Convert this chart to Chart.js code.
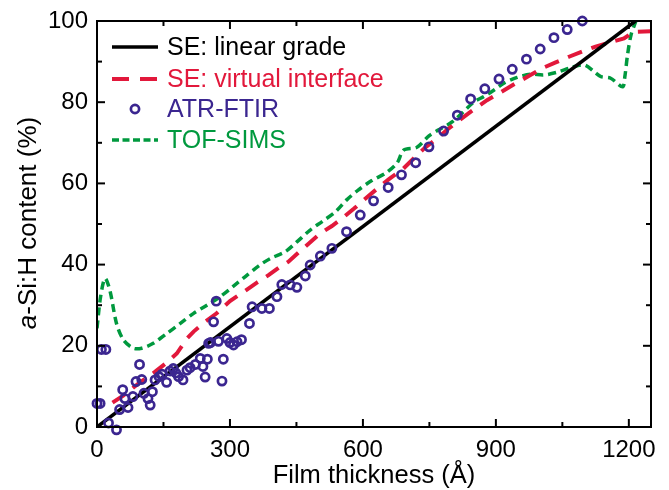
<!DOCTYPE html>
<html>
<head>
<meta charset="utf-8">
<script src="https://cdn.jsdelivr.net/npm/chart.js@4.4.1/dist/chart.umd.min.js"></script>
<style>
  body { margin: 0; background: #fff; }
  #wrap { width: 669px; height: 490px; }
</style>
</head>
<body>
<div id="wrap"><canvas id="depthChart"></canvas></div>
<script>
////Series values (x = film thickness in Å, y = a-Si:H content in %)
const linearX = [0, 1215];
const linearY = [0, 100];

const virtualX = [35, 60, 97, 130, 160, 180, 203, 218, 245, 270, 300, 331, 360, 387, 410, 432, 460, 504, 530, 553, 580, 602, 630, 658, 690, 715, 740, 768, 790, 813, 845, 880, 910, 941, 975, 1005, 1035, 1065, 1095, 1125, 1160, 1189, 1210, 1252];
const virtualY = [6.0, 7.8, 11, 13.5, 16.1, 18.1, 21.8, 23.5, 26.0, 28.0, 31.0, 33.3, 35.5, 37.4, 39.2, 40.7, 43.5, 47.7, 49.5, 51.4, 53.8, 55.9, 58.5, 61, 63.5, 66.2, 68.8, 71.1, 73.2, 75.2, 77.8, 80.5, 82.4, 84.4, 86.5, 88.4, 89.8, 91.2, 92.5, 93.7, 94.8, 95.7, 97.3, 97.5];

const atrX = [0, 7, 10, 20, 26, 44, 51, 58, 63, 70, 81, 88, 96, 101, 106, 115, 120, 125, 131, 140, 147, 157, 165, 172, 178, 184, 194, 203, 210, 222, 233, 239, 244, 249, 252, 256, 263, 269, 274, 282, 285, 293, 300, 308, 316, 326, 344, 350, 372, 389, 406, 417, 436, 451, 470, 481, 504, 530, 563, 594, 624, 657, 687, 719, 749, 782, 813, 843, 875, 907, 937, 969, 1000, 1031, 1061, 1095];
const atrY = [5.8, 5.8, 19.1, 19.1, 1.0, -0.7, 4.3, 9.2, 7.0, 4.8, 7.5, 11.2, 15.4, 11.7, 8.3, 7.0, 5.4, 8.7, 11.6, 12.4, 13.0, 11.0, 13.8, 14.4, 13.3, 12.4, 11.6, 14.0, 14.6, 15.4, 16.9, 14.9, 12.3, 16.7, 20.6, 20.8, 25.9, 31.0, 21.1, 11.3, 16.7, 21.8, 20.8, 20.2, 21.0, 21.5, 25.5, 29.6, 29.2, 29.2, 32.1, 35.1, 35.0, 34.4, 37.2, 39.9, 42.1, 44.0, 48.1, 52.2, 55.7, 59.0, 62.1, 65.1, 69.0, 72.9, 76.8, 80.8, 83.3, 85.7, 88.1, 90.6, 93.1, 95.9, 97.9, 100];

const tofX = [0, 8, 18, 29, 44, 60, 82, 101, 127, 157, 188, 218, 248, 278, 308, 334, 365, 391, 425, 451, 481, 508, 538, 564, 590, 620, 651, 677, 692, 722, 749, 771, 802, 850, 873, 896, 918, 948, 978, 1008, 1039, 1069, 1099, 1122, 1137, 1159, 1186, 1191, 1197, 1205, 1216];
const tofY = [24.3, 32, 36.6, 33.7, 25.5, 21.4, 19.4, 19.4, 20.6, 23, 25.5, 28, 30, 32.1, 34.7, 37, 39.7, 41.5, 43.2, 45.6, 48.5, 50.6, 53, 56, 58.4, 60.7, 62.5, 65, 68.2, 68.9, 71.7, 73.2, 75.2, 80, 81.4, 83, 84.7, 86.1, 86.9, 86.7, 87.4, 88.5, 89.2, 87.5, 86.3, 85.9, 83.8, 86.3, 91.6, 96.6, 100];

const seriesNames = ["SE: linear grade", "SE: virtual interface", "ATR-FTIR", "TOF-SIMS"];

////Axis tick values
const xTickValues = [0, 300, 600, 900, 1200];
const yTickValues = [0, 20, 40, 60, 80, 100];

////Colors
const BLACK = "#000000";
const RED = "#e2183b";
const PURPLE = "#3b2690";
const GREEN = "#00993e";

const FONT = "'Liberation Sans', Arial, sans-serif";

//zip two arrays into {x, y} points
function toPoints(xs, ys) {
    let pts = [];
    for (let i = 0; i < xs.length; i++) {
        pts.push({ x: xs[i], y: ys[i] });
    }
    return pts;
}

////Plugin: box frame, inward ticks, legend and axis titles
const framePlugin = {
    id: "frame",
    afterDraw(chart) {
        const ctx = chart.ctx;
        const a = chart.chartArea;
        const xs = chart.scales.x;
        const ys = chart.scales.y;
        ctx.save();
        ctx.strokeStyle = BLACK;
        ctx.lineWidth = 2;
        ctx.strokeRect(a.left, a.top, a.right - a.left, a.bottom - a.top);

        function seg(x1, y1, x2, y2) {
            ctx.beginPath();
            ctx.moveTo(x1, y1);
            ctx.lineTo(x2, y2);
            ctx.stroke();
        }

        //x ticks (major from scale, minor halfway)
        let xt = xs.ticks.map(t => t.value);
        for (let i = 0; i < xt.length; i++) {
            let p = xs.getPixelForValue(xt[i]);
            seg(p, a.bottom, p, a.bottom - 8);
            seg(p, a.top, p, a.top + 8);
            let mid = xt[i] + 150;
            if (mid < xs.max) {
                let m = xs.getPixelForValue(mid);
                seg(m, a.bottom, m, a.bottom - 5);
                seg(m, a.top, m, a.top + 5);
            }
        }
        //y ticks
        let yt = ys.ticks.map(t => t.value);
        for (let i = 0; i < yt.length; i++) {
            let p = ys.getPixelForValue(yt[i]);
            seg(a.left, p, a.left + 8, p);
            seg(a.right, p, a.right - 8, p);
            let mid = yt[i] + 10;
            if (mid < ys.max) {
                let m = ys.getPixelForValue(mid);
                seg(a.left, m, a.left + 5, m);
                seg(a.right, m, a.right - 5, m);
            }
        }

        //legend in the top left corner
        const colors = [BLACK, RED, PURPLE, GREEN];
        const baselines = [55, 87, 117, 148];
        ctx.font = "25px " + FONT;
        ctx.textBaseline = "alphabetic";
        ctx.textAlign = "left";
        for (let i = 0; i < seriesNames.length; i++) {
            const ds = chart.data.datasets[i];
            const ly = baselines[i] - 8;
            ctx.strokeStyle = colors[i];
            if (i === 2) {
                ctx.lineWidth = ds.borderWidth;
                ctx.beginPath();
                ctx.arc(135, ly, ds.pointRadius, 0, Math.PI * 2);
                ctx.stroke();
            } else {
                ctx.lineWidth = ds.borderWidth;
                ctx.setLineDash(i === 1 ? [17, 11] : (i === 3 ? [7, 3.5] : []));
                seg(112, ly, 158, ly);
                ctx.setLineDash([]);
            }
            ctx.fillStyle = colors[i];
            ctx.fillText(seriesNames[i], 167, baselines[i]);
        }

        //x title
        ctx.fillStyle = BLACK;
        ctx.textAlign = "center";
        ctx.font = "25.5px " + FONT;
        ctx.fillText("Film thickness (\u00C5)", (a.left + a.right) / 2, 483);

        //y title with italic "a"
        ctx.save();
        ctx.translate(36, (a.top + a.bottom) / 2 - 1);
        ctx.rotate(-Math.PI / 2);
        ctx.textAlign = "left";
        const italic = "italic 26px " + FONT;
        const normal = "26px " + FONT;
        ctx.font = italic;
        const w1 = ctx.measureText("a").width;
        ctx.font = normal;
        const w2 = ctx.measureText("-Si:H content (%)").width;
        let start = -(w1 + w2) / 2;
        ctx.font = italic;
        ctx.fillText("a", start, 0);
        ctx.font = normal;
        ctx.fillText("-Si:H content (%)", start + w1, 0);
        ctx.restore();

        ctx.restore();
    }
};

///Create chart with Chart JS
var ctx = document.getElementById("depthChart").getContext("2d");
var depthChart = new Chart(ctx, {
    type: "scatter",
    data: {
        datasets: [{
            label: seriesNames[0],
            data: toPoints(linearX, linearY),
            showLine: true,
            borderColor: BLACK,
            borderWidth: 3.5,
            pointRadius: 0,
            order: 1
        }, {
            label: seriesNames[1],
            data: toPoints(virtualX, virtualY),
            showLine: true,
            borderColor: RED,
            borderWidth: 4,
            borderDash: [15, 10],
            pointRadius: 0,
            order: 2
        }, {
            label: seriesNames[2],
            data: toPoints(atrX, atrY),
            showLine: false,
            borderColor: PURPLE,
            backgroundColor: "rgba(0,0,0,0)",
            borderWidth: 2.7,
            pointRadius: 4.1,
            clip: false,
            order: 0
        }, {
            label: seriesNames[3],
            data: toPoints(tofX, tofY),
            showLine: true,
            borderColor: GREEN,
            borderWidth: 3.5,
            borderDash: [8, 5],
            tension: 0.3,
            pointRadius: 0,
            order: 3
        }]
    },
    options: {
        responsive: true,
        maintainAspectRatio: false,
        animation: false,
        layout: { padding: { left: 0, top: 21, right: 18, bottom: 0 } },
        plugins: {
            legend: { display: false },
            tooltip: { enabled: false }
        },
        scales: {
            x: {
                type: "linear",
                min: 0,
                max: 1250,
                grid: { display: false, drawTicks: false },
                border: { display: false },
                afterBuildTicks: s => { s.ticks = xTickValues.map(v => ({ value: v })); },
                ticks: {
                    padding: 9,
                    color: BLACK,
                    maxRotation: 0,
                    autoSkip: false,
                    callback: v => String(v),
                    font: { family: FONT, size: 24 }
                },
                afterFit: s => { s.height = 63; s.paddingLeft = 0; s.paddingRight = 0; }
            },
            y: {
                min: 0,
                max: 100,
                grid: { display: false, drawTicks: false },
                border: { display: false },
                afterBuildTicks: s => { s.ticks = yTickValues.map(v => ({ value: v })); },
                ticks: {
                    padding: 9,
                    color: BLACK,
                    autoSkip: false,
                    callback: v => String(v),
                    font: { family: FONT, size: 24 }
                },
                afterFit: s => { s.width = 97; s.paddingTop = 0; s.paddingBottom = 0; }
            }
        }
    },
    plugins: [framePlugin]
});
</script>
</body>
</html>
